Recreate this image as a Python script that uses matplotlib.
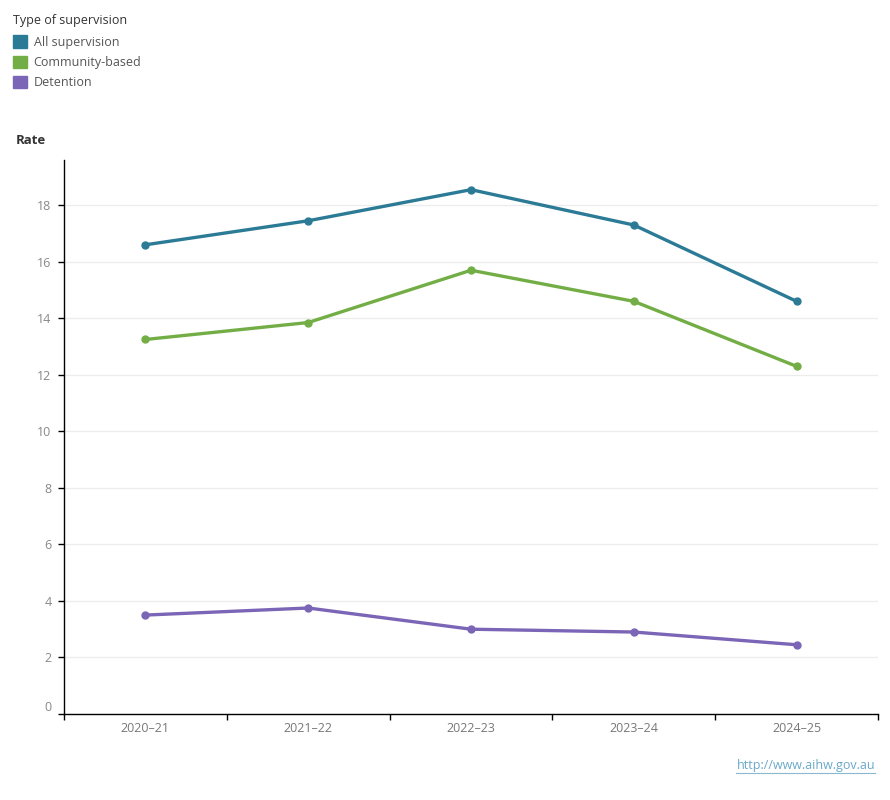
import numpy as np
import matplotlib.pyplot as plt
from matplotlib.patches import Patch
import matplotlib.transforms as mtransforms

years = ["2020\u201321", "2021\u201322", "2022\u201323", "2023\u201324", "2024\u201325"]
all_supervision = [16.6, 17.45, 18.55, 17.3, 14.6]
community_based = [13.25, 13.85, 15.7, 14.6, 12.3]
detention = [3.5, 3.75, 3.0, 2.9, 2.45]

series = [
    ("All supervision", all_supervision, "#2c7b96"),
    ("Community-based", community_based, "#72ae45"),
    ("Detention", detention, "#7b65b6"),
]

def main():
    plt.rcParams["font.family"] = ["Open Sans", "DejaVu Sans"]
    fig = plt.figure(figsize=(8.9, 8), dpi=100)
    ax = fig.add_axes([64 / 890, 86 / 800, 814 / 890, 554 / 800])

    x = np.arange(len(years))
    for name, vals, col in series:
        ax.plot(x, vals, color=col, linewidth=2.4, marker="o", markersize=5, zorder=3)

    ax.set_xlim(-0.5, len(years) - 0.5)
    ax.set_ylim(0, 19.6)
    ax.set_yticks(range(0, 19, 2))
    ax.yaxis.grid(True, color="#ececec", linewidth=0.9)
    ax.set_axisbelow(True)

    # tick marks at category boundaries, labels at centres
    ax.set_xticks(np.arange(-0.5, len(years), 1.0))
    ax.set_xticklabels([])
    ax.set_xticks(x, minor=True)
    ax.set_xticklabels(years, minor=True)
    ax.tick_params(axis="x", which="minor", length=0, pad=6, labelsize=9, labelcolor="#777777")
    ax.tick_params(axis="x", which="major", length=4, width=1, color="black")
    ax.tick_params(axis="y", length=4, width=1, color="black", labelsize=9,
                   labelcolor="#888888", pad=5)

    # shift the "0" label up a bit like the original
    lbl0 = ax.get_yticklabels()[0]
    lbl0.set_transform(lbl0.get_transform() + mtransforms.ScaledTranslation(0, 8 / 100, fig.dpi_scale_trans))

    for side in ["top", "right"]:
        ax.spines[side].set_visible(False)
    ax.spines["left"].set_linewidth(1)
    ax.spines["bottom"].set_linewidth(1)

    fig.text(16 / 890, 1 - 141 / 800, "Rate", fontsize=9.5, fontweight="bold",
             color="#333333", va="center")

    handles = [Patch(facecolor=c, edgecolor=c) for _, _, c in series]
    leg = fig.legend(handles, [s[0] for s in series], title="Type of supervision",
                     loc="upper left", bbox_to_anchor=(13 / 890, 1 - 14 / 800),
                     frameon=False, fontsize=9, title_fontsize=9,
                     handlelength=1.15, handleheight=1.15, handletextpad=0.5,
                     labelspacing=0.55, borderaxespad=0, borderpad=0)
    leg._legend_box.align = "left"
    leg._legend_box.sep = 6
    for t in leg.get_texts():
        t.set_color("#555555")
    leg.get_title().set_color("#333333")

    fig.text(875 / 890, 1 - 766 / 800, "http://www.aihw.gov.au", fontsize=9,
             color="#6aa8c8", ha="right", va="center")
    fig.add_artist(plt.Line2D([736 / 890, 875 / 890], [1 - 773 / 800] * 2,
                              color="#8ab8d0", linewidth=0.8))

    plt.savefig("out.png", dpi=100)

if __name__ == "__main__":
    main()
